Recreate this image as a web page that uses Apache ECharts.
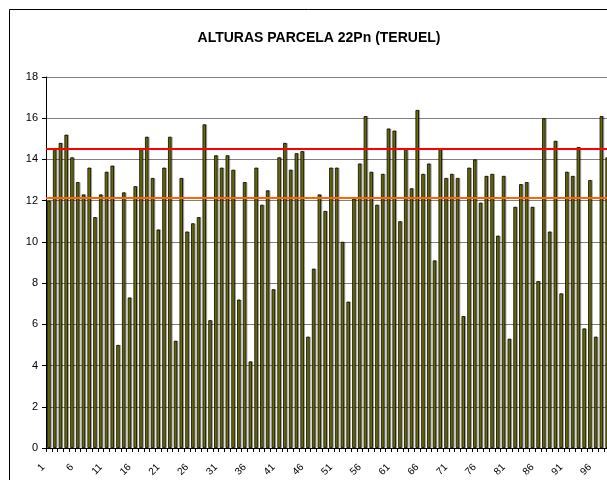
<!DOCTYPE html>
<html>
<head>
<meta charset="utf-8">
<script src="https://cdn.jsdelivr.net/npm/echarts@6/dist/echarts.min.js"></script>
<style>html,body{margin:0;padding:0;background:#fff}#c{width:607px;height:480px}</style>
</head>
<body>
<div id="c"></div>
<script>
const titleText = "ALTURAS PARCELA 22Pn (TERUEL)";
const heights = [
  12.0, 14.5, 14.8, 15.2, 14.1, 12.9, 12.3, 13.6, 11.2, 12.3,
  13.4, 13.7, 5.0, 12.4, 7.3, 12.7, 14.5, 15.1, 13.1, 10.6,
  13.6, 15.1, 5.2, 13.1, 10.5, 10.9, 11.2, 15.7, 6.2, 14.2,
  13.6, 14.2, 13.5, 7.2, 12.9, 4.2, 13.6, 11.8, 12.5, 7.7,
  14.1, 14.8, 13.5, 14.3, 14.4, 5.4, 8.7, 12.3, 11.5, 13.6,
  13.6, 10.0, 7.1, 12.1, 13.8, 16.1, 13.4, 11.8, 13.3, 15.5,
  15.4, 11.0, 14.5, 12.6, 16.4, 13.3, 13.8, 9.1, 14.5, 13.1,
  13.3, 13.1, 6.4, 13.6, 14.0, 11.9, 13.2, 13.3, 10.3, 13.2,
  5.3, 11.7, 12.8, 12.9, 11.7, 8.1, 16.0, 10.5, 14.9, 7.5,
  13.4, 13.2, 14.6, 5.8, 13.0, 5.4, 16.1, 14.1
];
const categories = heights.map((_, i) => String(i + 1));
const upperLimit = 14.5;
const lowerLimit = 12.15;
const yMin = 0, yMax = 18, yStep = 2;

const chart = echarts.init(document.getElementById('c'), null, {renderer: 'canvas'});
chart.setOption({
  animation: false,
  backgroundColor: '#ffffff',
  title: {
    text: titleText,
    left: 314, top: 26, textAlign: 'center',
    textStyle: {fontFamily: 'Liberation Sans, Arial, sans-serif', fontSize: 14, fontWeight: 'bold', color: '#000'}
  },
  graphic: [{
    type: 'rect', silent: true,
    shape: {x: 9.5, y: 9.5, width: 700, height: 600},
    style: {fill: 'none', stroke: '#000', lineWidth: 1}
  }],
  grid: {left: 46, top: 77, right: -3, bottom: 32, containLabel: false, outerBoundsMode: 'none'},
  xAxis: {
    type: 'category',
    data: categories,
    boundaryGap: true,
    axisLine: {lineStyle: {color: '#000', width: 1}},
    axisTick: {show: true, interval: 0, length: 4, lineStyle: {color: '#000'}},
    axisLabel: {interval: 4, rotate: 45, margin: 12, padding: [0, 8, 0, 0], fontSize: 10, color: '#000', fontFamily: 'Liberation Sans, Arial, sans-serif'},
    splitLine: {show: false}
  },
  yAxis: {
    type: 'value',
    min: yMin, max: yMax, interval: yStep,
    axisLine: {show: true, lineStyle: {color: '#000', width: 1}},
    axisTick: {show: true, length: 4, lineStyle: {color: '#000'}},
    axisLabel: {fontSize: 11, color: '#000', margin: 8, fontFamily: 'Liberation Sans, Arial, sans-serif'},
    splitLine: {show: true, lineStyle: {color: '#808080', width: 1}}
  },
  series: [{
    type: 'bar',
    data: heights,
    barWidth: 3.4,
    itemStyle: {color: '#808000', borderColor: '#000', borderWidth: 0.8,
      shadowColor: 'rgba(0,0,0,0.3)', shadowOffsetX: 1.2, shadowOffsetY: 0, shadowBlur: 0},
    markLine: {
      silent: true, symbol: 'none', label: {show: false},
      data: [
        {yAxis: upperLimit, lineStyle: {color: '#ff0000', width: 2, type: 'solid'}},
        {yAxis: lowerLimit, lineStyle: {color: '#ff6600', width: 2, type: 'solid'}}
      ]
    }
  }]
});
</script>
</body>
</html>
